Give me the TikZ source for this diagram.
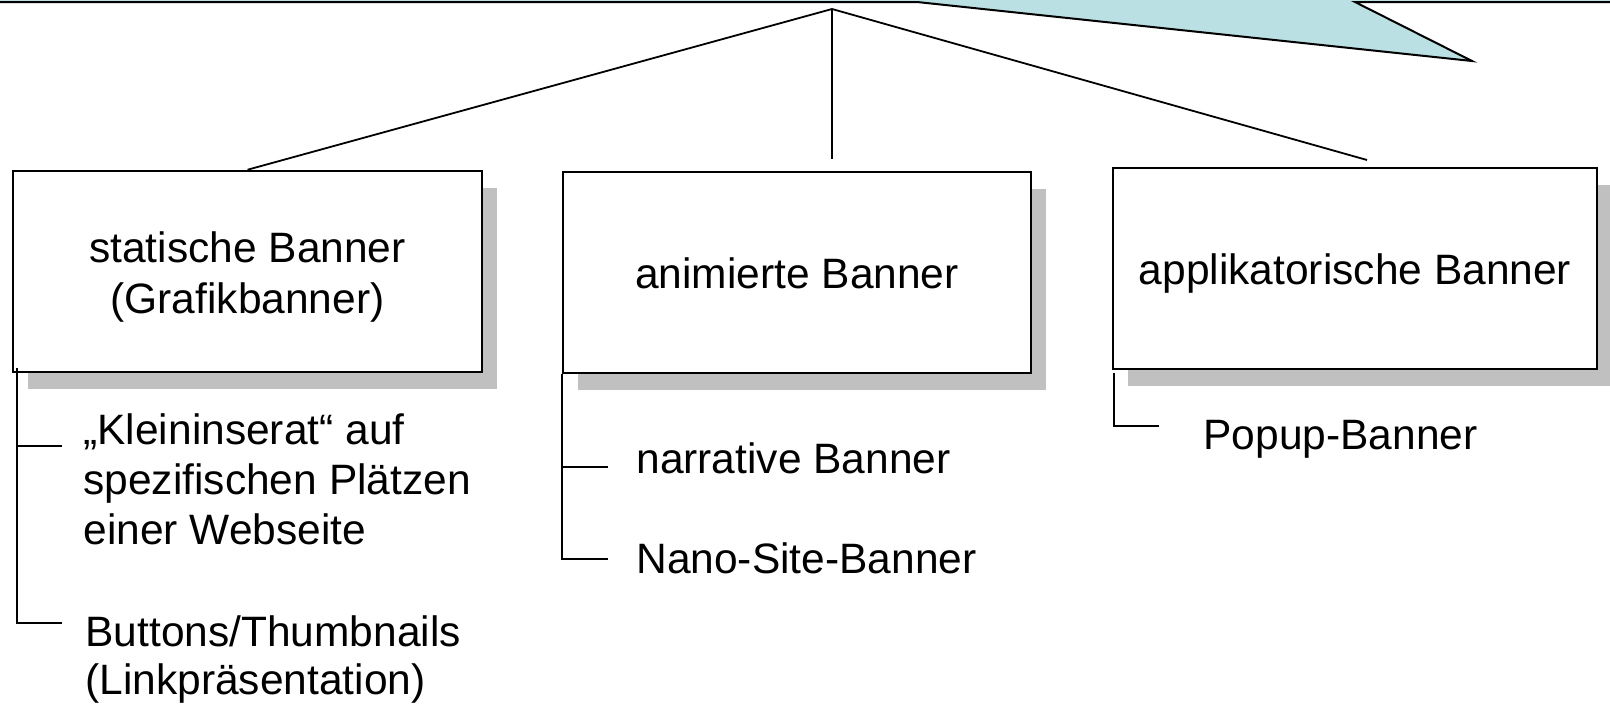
\documentclass[tikz,border=0pt]{standalone}
\usepackage{fontspec}
\setmainfont{Liberation Sans}
\usetikzlibrary{shadows}
\definecolor{calloutteal}{RGB}{186,224,227}
\definecolor{shadowgray}{RGB}{192,192,192}
\begin{document}
\begin{tikzpicture}[x=0.5pt,y=-0.5pt,
  bannerbox/.style={draw=black, line width=1pt, fill=white, inner sep=0pt,
    minimum height=100.75pt,
    drop shadow={shadow xshift=7.5pt, shadow yshift=-8.5pt, fill=shadowgray, opacity=1}},
  lbl/.style={inner sep=0pt, font=\fontsize{21.25pt}{25pt}\selectfont},
  conn/.style={draw=black, line width=0.9pt},
  twig/.style={draw=black, line width=0.7pt}]
\useasboundingbox (0,0) rectangle (1610,707);

% callout band along the top edge with its pointer
\coordinate (bandL) at (0,2);
\coordinate (ptrA) at (917,2);
\coordinate (ptrTip) at (1472,61);
\coordinate (ptrB) at (1355,2);
\coordinate (bandR) at (1610,2);
\fill[calloutteal] (0,-20) rectangle (bandR);
\fill[calloutteal] (ptrA) -- (ptrTip) -- (ptrB) -- cycle;
\draw[line width=1pt, line join=miter] (bandL) -- (ptrA) -- (ptrTip) -- (ptrB) -- (bandR);

% the three banner categories
\node[bannerbox, minimum width=234.5pt] (sb) at (247.5,271.5) {};
\node[bannerbox, minimum width=234pt] (ab) at (797,272.25) {};
\node[bannerbox, minimum width=242pt] (pb) at (1355,268.25) {};

\node[lbl, anchor=base] (sbtxt) at (247.5,262)
  {\begin{tabular}[t]{@{}c@{}}statische Banner\\[0.5pt](Grafikbanner)\end{tabular}};
\node[lbl, anchor=base] (abtxt) at (797,288) {animierte Banner};
\node[lbl, anchor=base] (pbtxt) at (1355,284) {applikatorische Banner};

% branches from the common root
\coordinate (apex) at (832,9);
\coordinate (midend) at (832,159);
\coordinate (rightend) at (1367,160);
\draw[conn] (apex) -- (sb.north);
\draw[conn] (apex) -- (midend);
\draw[conn] (apex) -- (rightend);

% sub-items of the static banners
\node[lbl, anchor=base west] (klein) at (83,444)
  {\begin{tabular}[t]{@{}l@{}}„Kleininserat“ auf\\spezifischen Plätzen\\einer Webseite\end{tabular}};
\node[lbl, anchor=base west] (btn) at (85,646)
  {\begin{tabular}[t]{@{}l@{}}Buttons/Thumbnails\\[-1pt](Linkpräsentation)\end{tabular}};
\coordinate (sbstem) at (17,368);
\coordinate (sbk) at (62,446);
\coordinate (sbb) at (62,623);
\draw[twig] (sbstem) |- (sbb);
\draw[twig] (sbk) -- (sbk -| sbstem);

% sub-items of the animated banners
\node[lbl, anchor=base west] (narr) at (636,473) {narrative Banner};
\node[lbl, anchor=base west] (nano) at (636,573) {Nano-Site-Banner};
\coordinate (abn1) at (608,467);
\coordinate (abn2) at (608,559);
\draw[twig] (ab.south west) |- (abn2);
\draw[twig] (abn1) -- (abn1 -| ab.south west);

% sub-item of the applicative banners
\node[lbl, anchor=base west] (popup) at (1203,449) {Popup-Banner};
\coordinate (pbstem) at (1114,373);
\coordinate (pbp) at (1159,426);
\draw[twig] (pbstem) |- (pbp);
\end{tikzpicture}
\end{document}
